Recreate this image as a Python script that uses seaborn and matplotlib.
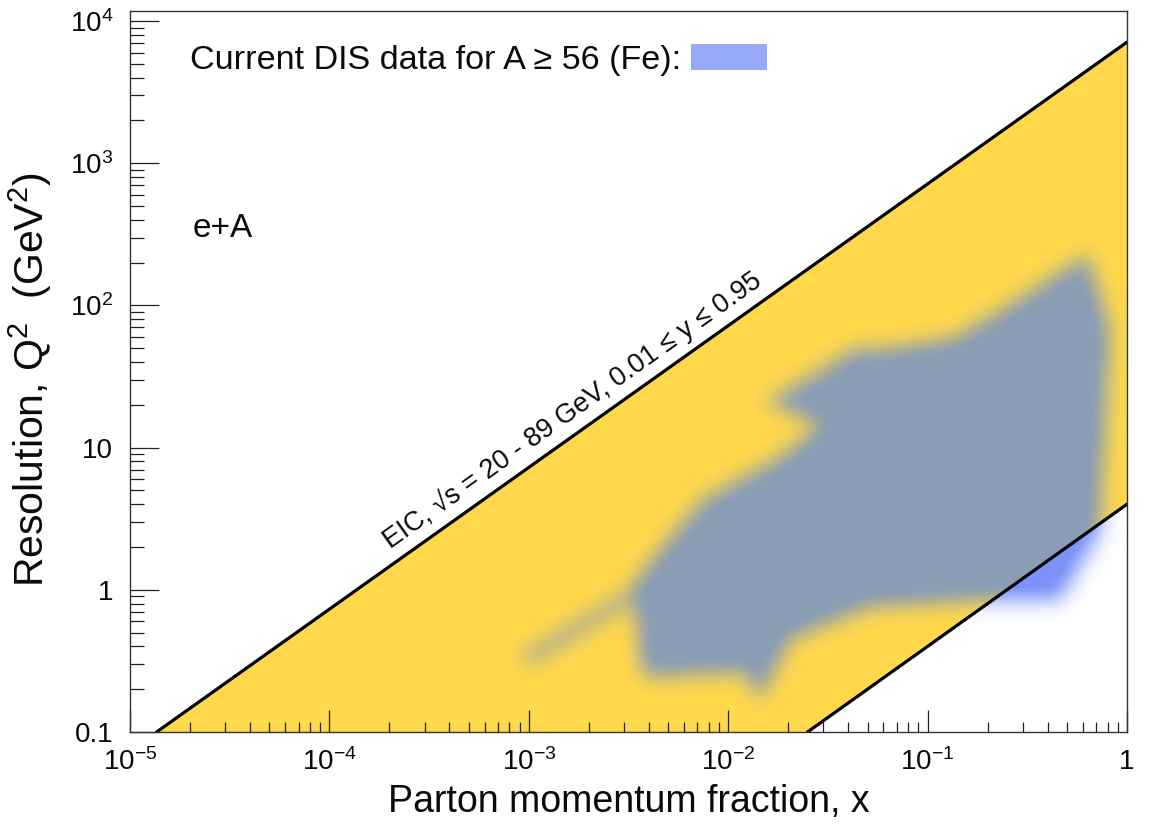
import numpy as np
import matplotlib
matplotlib.use("Agg")
import matplotlib.pyplot as plt
import seaborn as sns
from matplotlib.path import Path
from matplotlib.patches import Polygon, Patch
from matplotlib.colors import LinearSegmentedColormap
from matplotlib.ticker import FixedLocator, FixedFormatter, LogLocator, NullFormatter

# ---------------- data ----------------
x_ticks = [1e-5, 1e-4, 1e-3, 1e-2, 1e-1, 1.0]
x_tick_labels = [r"$\mathregular{10^{-5}}$", r"$\mathregular{10^{-4}}$", r"$\mathregular{10^{-3}}$",
                 r"$\mathregular{10^{-2}}$", r"$\mathregular{10^{-1}}$", "1"]
y_ticks = [0.1, 1.0, 10.0, 100.0, 1000.0, 10000.0]
y_tick_labels = ["0.1", "1", "10", r"$\mathregular{10^{2}}$", r"$\mathregular{10^{3}}$", r"$\mathregular{10^{4}}$"]

# EIC kinematic reach (upper: sqrt(s)=89 GeV, y=0.95 ; lower: sqrt(s)=20 GeV, y=0.01)
eic_upper_x = [1.36e-5, 1.0]
eic_upper_q2 = [0.1, 7100.0]
eic_lower_x = [0.025, 1.0]
eic_lower_q2 = [0.1, 4.0]

# Outline of the current DIS data region for A >= 56 (Fe)
dis_x = [3.33e-3, 3.74e-3, 0.0121, 0.0144, 0.0204, 0.0251, 0.0514, 0.183, 0.461, 0.732,
         0.822, 0.637, 0.231, 0.137, 0.0577, 0.0423, 0.0313, 0.0153, 0.0295, 0.0182,
         7.48e-3, 4.55e-3]
dis_q2 = [1.08, 0.244, 0.264, 0.168, 0.444, 0.505, 0.757, 0.848, 0.85, 2.63,
          67.0, 226.0, 90.0, 59.0, 48.5, 48.5, 36.9, 20.9, 14.7, 8.6,
          4.29, 1.91]
# thin low-x tail of the DIS data
tail_x = [1.01e-3, 3.3e-3]
tail_q2 = [0.336, 0.92]

legend_label = "Current DIS data for A \u2265 56 (Fe):"
band_label = "EIC, \u221as = 20 - 89 GeV, 0.01 \u2264 y \u2264 0.95"
system_label = "e+A"

yellow = "#FFD84B"
grayblue = "#8B9DB4"
outside_blue = "#7B93F8"
legend_blue = "#97A9F7"
ink = "#0a0a0a"

# ---------------- style ----------------
sns.set_theme(style="white")
plt.rcParams["font.family"] = ["Liberation Sans", "DejaVu Sans"]
plt.rcParams["mathtext.fontset"] = "custom"
plt.rcParams["mathtext.rm"] = "Liberation Sans"
plt.rcParams["mathtext.it"] = "Liberation Sans:italic"
plt.rcParams["mathtext.bf"] = "Liberation Sans:bold"
plt.rcParams["text.color"] = ink
plt.rcParams["xtick.labelcolor"] = ink
plt.rcParams["ytick.labelcolor"] = ink

W, H = 1150, 827
fig = plt.figure(figsize=(W / 100, H / 100), dpi=100)
ax = fig.add_axes([130 / W, (H - 732) / H, 997 / W, (732 - 11) / H])
ax.set_axisbelow(False)
ax.set_xscale("log")
ax.set_yscale("log")
xmin, xmax = 1e-5, 1.0
ymin, ymax = 0.1, 10 ** (4 + 10 / 142.2)
ax.set_xlim(xmin, xmax)
ax.set_ylim(ymin, ymax)

# yellow EIC band
band_vx = [eic_upper_x[0], eic_upper_x[1], eic_lower_x[1], eic_lower_x[0]]
band_vy = [eic_upper_q2[0], eic_upper_q2[1], eic_lower_q2[1], eic_lower_q2[0]]
band = ax.fill(band_vx, band_vy, color=yellow, lw=0, zorder=1)[0]

# ---------------- blurred DIS region ----------------
nx, ny = 500, 360
lxe = np.linspace(np.log10(xmin), np.log10(xmax), nx + 1)
lye = np.linspace(np.log10(ymin), np.log10(ymax), ny + 1)
lxc = 0.5 * (lxe[:-1] + lxe[1:])
lyc = 0.5 * (lye[:-1] + lye[1:])
GX, GY = np.meshgrid(10 ** lxc, 10 ** lyc)
pts = ax.transData.transform(np.column_stack([GX.ravel(), GY.ravel()]))
poly_px = ax.transData.transform(np.column_stack([dis_x, dis_q2]))
mask = Path(poly_px).contains_points(pts).astype(float)
ta = ax.transData.transform((tail_x[0], tail_q2[0]))
tb = ax.transData.transform((tail_x[1], tail_q2[1]))
d = tb - ta
t = np.clip(((pts - ta) @ d) / (d @ d), 0, 1)
dist = np.linalg.norm(pts - (ta + t[:, None] * d), axis=1)
mask = np.maximum(mask, 0.8 * (dist < 6.5).astype(float))
mask = mask.reshape(ny, nx)

dx_px = (ax.transData.transform((10 ** lxc[1], 1))[0] - ax.transData.transform((10 ** lxc[0], 1))[0])
dy_px = (ax.transData.transform((1, 10 ** lyc[1]))[1] - ax.transData.transform((1, 10 ** lyc[0]))[1])


def kernel(s):
    r = int(3.5 * s) + 1
    u = np.arange(-r, r + 1)
    g = np.exp(-0.5 * (u / s) ** 2)
    return g / g.sum()


sigma_px = 10.0
kx, ky = kernel(sigma_px / dx_px), kernel(sigma_px / dy_px)
field = np.apply_along_axis(lambda v: np.convolve(v, kx, mode="same"), 1, mask)
field = np.apply_along_axis(lambda v: np.convolve(v, ky, mode="same"), 0, field)
field = np.clip(field * 1.08, 0, 1)


def alpha_cmap(c):
    rgb = matplotlib.colors.to_rgb(c)
    return LinearSegmentedColormap.from_list("a", [(*rgb, 0.0), (*rgb, 1.0)])


mesh_in = ax.pcolormesh(10 ** lxe, 10 ** lye, field, cmap=alpha_cmap(grayblue), vmin=0, vmax=1,
                        shading="flat", zorder=2, rasterized=True, antialiased=False)
mesh_in.set_clip_path(band)
below = Polygon(np.column_stack([[eic_lower_x[0], eic_lower_x[1], xmax], [eic_lower_q2[0], eic_lower_q2[1], ymin]]),
                closed=True, transform=ax.transData)
mesh_out = ax.pcolormesh(10 ** lxe, 10 ** lye, field, cmap=alpha_cmap(outside_blue), vmin=0, vmax=1,
                         shading="flat", zorder=2, rasterized=True, antialiased=False)
mesh_out.set_clip_path(below)

# ---------------- band edges ----------------
sns.lineplot(x=eic_upper_x, y=eic_upper_q2, ax=ax, color="black", lw=2.3, zorder=4)
sns.lineplot(x=eic_lower_x, y=eic_lower_q2, ax=ax, color="black", lw=2.3, zorder=4)

# rotated label along the upper line
p = ax.transData.transform(np.column_stack([eic_upper_x, eic_upper_q2]))
ang = np.degrees(np.arctan2(p[1, 1] - p[0, 1], p[1, 0] - p[0, 0]))
lx_mid = np.log10(1.9e-3)
frac = (lx_mid - np.log10(eic_upper_x[0])) / (np.log10(eic_upper_x[1]) - np.log10(eic_upper_x[0]))
ly_mid = np.log10(eic_upper_q2[0]) + frac * (np.log10(eic_upper_q2[1]) - np.log10(eic_upper_q2[0]))
off = 5.5
ax.annotate(band_label, xy=(10 ** lx_mid, 10 ** ly_mid),
            xytext=(-off * np.sin(np.radians(ang)), off * np.cos(np.radians(ang))),
            textcoords="offset points", rotation=ang, rotation_mode="anchor",
            ha="center", va="bottom", fontsize=19.5, color=ink, zorder=5)

ax.text(2.05e-5, 350, system_label, fontsize=24, ha="left", va="center", color=ink)

leg = ax.legend(handles=[Patch(facecolor=legend_blue, edgecolor="none", label=legend_label)],
                loc="center left", bbox_to_anchor=(190 / W, 1 - 60 / H), bbox_transform=fig.transFigure,
                frameon=False, markerfirst=False, fontsize=24.6, handlelength=2.2, handleheight=0.8,
                handletextpad=0.3, borderpad=0, borderaxespad=0)

# ---------------- axes styling ----------------
ax.xaxis.set_major_locator(FixedLocator(x_ticks))
ax.xaxis.set_major_formatter(FixedFormatter(x_tick_labels))
ax.yaxis.set_major_locator(FixedLocator(y_ticks))
ax.yaxis.set_major_formatter(FixedFormatter(y_tick_labels))
ax.xaxis.set_minor_locator(LogLocator(base=10, subs=np.arange(2, 10), numticks=20))
ax.yaxis.set_minor_locator(LogLocator(base=10, subs=np.arange(2, 10), numticks=20))
ax.xaxis.set_minor_formatter(NullFormatter())
ax.yaxis.set_minor_formatter(NullFormatter())
ax.tick_params(axis="y", which="major", direction="in", length=21, width=0.9, color="#222222",
               left=True, right=False, labelsize=20, pad=12)
ax.tick_params(axis="y", which="minor", direction="in", length=10, width=0.9, color="#222222",
               left=True, right=False)
ax.tick_params(axis="x", which="major", direction="in", length=16, width=0.9, color="#222222",
               bottom=True, top=False, labelsize=20, pad=12)
ax.tick_params(axis="x", which="minor", direction="in", length=7.5, width=0.9, color="#222222",
               bottom=True, top=False)
for s in ax.spines.values():
    s.set_color("#333333")
    s.set_linewidth(1.0)
    s.set_zorder(6)

ax.set_xlabel("Parton momentum fraction, x", fontsize=27, color=ink)
ax.set_ylabel(r"Resolution, Q$^\mathregular{2}$  (GeV$^\mathregular{2}$)", fontsize=29.5, color=ink)
ax.xaxis.set_label_coords(0.5, (732 - 784) / 721)
ax.yaxis.set_label_coords((54 - 130) / 997, (732 - 380) / 721)

fig.savefig("out.png", dpi=100)
